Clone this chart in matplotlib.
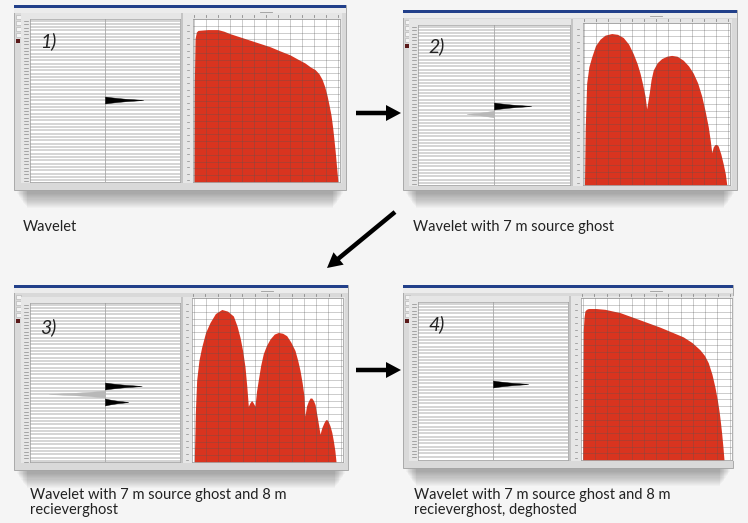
import matplotlib.pyplot as plt
import numpy as np
from matplotlib.patches import Rectangle, FancyArrow

W, H = 748, 523

# amplitude spectra: frequency (% of axis width) and amplitude (fraction of axis height)
spec1_f = [0.7, 0.9, 1.4, 2.3, 3.4, 10, 17, 21, 25.2, 32, 38.8, 45.6, 52.4, 59, 66, 71, 76.2,
           80, 83, 85.6, 87.8, 89.6, 91.2, 92.6, 93.9, 95, 95.9, 96.7, 97.3, 98, 98.6]
spec1_a = [0, 0.6, 0.88, 0.92, 0.93, 0.935, 0.935, 0.925, 0.91, 0.89, 0.87, 0.85, 0.83, 0.805,
           0.78, 0.755, 0.73, 0.705, 0.69, 0.665, 0.63, 0.585, 0.53, 0.47, 0.41, 0.335, 0.26,
           0.19, 0.13, 0.06, 0]

spec2_f = [1, 1.5, 2.5, 4, 5.9, 8.5, 11.6, 15, 19.5, 23.5, 27.4, 31, 34.2, 36.8, 38.8, 40.6,
           42.2, 43.3, 44.2, 45.1, 46.3, 47.8, 50.5, 53.5, 57, 60.3, 64, 68.2, 71.8, 75, 78,
           80.7, 83, 85.2, 86.5, 87.6, 88.6, 89.8, 91, 92, 93.8, 95.4, 96.8, 97.8]
spec2_a = [0, 0.35, 0.63, 0.73, 0.79, 0.86, 0.90, 0.925, 0.935, 0.93, 0.91, 0.87, 0.81, 0.75,
           0.69, 0.62, 0.55, 0.47, 0.52, 0.57, 0.65, 0.71, 0.755, 0.78, 0.795, 0.80, 0.795,
           0.77, 0.735, 0.69, 0.63, 0.55, 0.46, 0.36, 0.28, 0.20, 0.235, 0.25, 0.25, 0.24,
           0.19, 0.13, 0.07, 0]

spec3_f = [1.5, 2.2, 3.1, 4.6, 6.4, 9, 11.9, 15.5, 19.7, 23.5, 27.4, 29.8, 31.8, 33.5, 35.1,
           36.3, 37.3, 38.3, 39.5, 40.6, 41.7, 42.7, 43.9, 45.5, 47.2, 49.3, 51.7, 54.5, 57.2,
           60, 62.7, 65.5, 68.2, 70, 71.5, 73, 74.2, 74.8, 75.8, 77, 78.2, 79.3, 80.4, 81.5,
           83.2, 84.8, 86, 87.4, 88.3, 89.2, 90.3, 91.4, 92.6, 93.6, 94.6, 95.4]
spec3_a = [0, 0.3, 0.50, 0.62, 0.70, 0.79, 0.85, 0.905, 0.93, 0.92, 0.89, 0.83, 0.76, 0.68,
           0.58, 0.46, 0.34, 0.36, 0.375, 0.36, 0.34, 0.43, 0.50, 0.59, 0.66, 0.71, 0.75, 0.78,
           0.79, 0.785, 0.77, 0.73, 0.68, 0.62, 0.56, 0.48, 0.40, 0.28, 0.34, 0.37, 0.39, 0.39,
           0.375, 0.35, 0.26, 0.17, 0.21, 0.24, 0.255, 0.26, 0.245, 0.22, 0.18, 0.13, 0.07, 0]

spec4_f = [1.1, 1.3, 1.5, 2, 2.6, 3.6, 4.9, 10, 15.9, 20.8, 25.8, 30.2, 34.7, 43.5, 52.3, 60,
           67.7, 73.5, 78.8, 81.8, 84.3, 86.7, 88.7, 90.3, 91.6, 92.5, 93.2, 94, 94.7]
spec4_a = [0, 0.5, 0.80, 0.88, 0.92, 0.93, 0.935, 0.935, 0.93, 0.92, 0.91, 0.895, 0.88, 0.85,
           0.82, 0.79, 0.76, 0.725, 0.68, 0.645, 0.60, 0.53, 0.45, 0.37, 0.29, 0.22, 0.16,
           0.08, 0]

# wavelet spikes: time (px from top of trace panel) and amplitude (-1..1 across panel)
trace1_t = [81]
trace1_a = [0.51]
trace2_t = [81, 89]
trace2_a = [0.49, -0.36]
trace3_t = [83, 91, 99]
trace3_a = [0.49, -0.75, 0.31]
trace4_t = [82]
trace4_a = [0.47]

# shape of a single spike
pulse_dt = [-3.5, -2.7, -1.7, -1.1, -0.75, -0.35, 0, 0.35, 0.75, 1.1, 1.7, 2.7, 3.5]
pulse_w = [0, 0.15, 0.4, 0.58, 0.73, 0.88, 1, 0.88, 0.73, 0.58, 0.4, 0.15, 0]

panels = [
    dict(win=(14, 5, 346, 190), trace=(30, 19, 180, 182), spec=(193, 19, 340, 182),
         f=spec1_f, a=spec1_a, t=trace1_t, amp=trace1_a, label='1)', lab=(40, 47)),
    dict(win=(403, 10, 737, 190), trace=(418, 25, 570, 185), spec=(583, 23, 730, 185),
         f=spec2_f, a=spec2_a, t=trace2_t, amp=trace2_a, label='2)', lab=(428, 52)),
    dict(win=(14, 285, 348, 470), trace=(30, 303, 180, 462), spec=(192, 298, 343, 462),
         f=spec3_f, a=spec3_a, t=trace3_t, amp=trace3_a, label='3)', lab=(40, 333)),
    dict(win=(403, 285, 733, 468), trace=(418, 302, 568, 460), spec=(581, 298, 732, 460),
         f=spec4_f, a=spec4_a, t=trace4_t, amp=trace4_a, label='4)', lab=(428, 330)),
]

fig = plt.figure(figsize=(W / 100, H / 100), dpi=100)
fig.patch.set_facecolor('#f5f5f5')
bg = fig.add_axes([0, 0, 1, 1])
bg.set_xlim(0, W)
bg.set_ylim(H, 0)
bg.axis('off')


def box(x0, y0, x1, y1):
    return [x0 / W, 1 - y1 / H, (x1 - x0) / W, (y1 - y0) / H]


for p in panels:
    wx0, wy0, wx1, wy1 = p['win']
    ww, wh = wx1 - wx0, wy1 - wy0
    # soft drop shadow
    for i in range(14):
        bg.add_patch(Rectangle((wx0 + 3 + i * 0.8, wy0 + 4), ww - 6 - i * 1.6, wh + i * 1.1,
                               color='k', alpha=0.022, lw=0))
    bg.add_patch(Rectangle((wx0, wy0), ww, wh, facecolor='#d9d9d9', edgecolor='#a0a0a0', lw=0.6))
    bg.add_patch(Rectangle((wx0, wy0), ww, 2.5, color='#22408a', lw=0))
    bg.add_patch(Rectangle((wx0, wy0 + 2.5), ww, 5, color='#ececec', lw=0))
    # toolbar icons
    for k in range(4):
        bg.add_patch(Rectangle((wx0 + 2, wy0 + 10 + k * 6), 5, 4, facecolor='#f4f4f4',
                               edgecolor='#b0b0b0', lw=0.4))
    bg.add_patch(Rectangle((wx0 + 2.5, wy0 + 34), 4, 4, color='#5a1a1a', lw=0))

    tx0, ty0, tx1, ty1 = p['trace']
    sx0, sy0, sx1, sy1 = p['spec']
    # gray panel behind plots
    bg.add_patch(Rectangle((tx0 - 9, ty0 - 6), sx1 - tx0 + 11, ty1 - ty0 + 7, color='#e6e6e6', lw=0))
    bg.add_patch(Rectangle((tx1 + 1, ty0 - 6), 2, ty1 - ty0 + 7, color='#c4c4c4', lw=0))
    # time tick strip
    for yy in np.arange(ty0 + 2, ty1, 3.33):
        bg.plot([tx0 - 6, tx0 - 2], [yy, yy], color='#8a8a8a', lw=0.5)
    # spectrum tick strips
    for yy in np.linspace(sy0 + 6, sy1 - 2, 25):
        bg.plot([sx0 - 6, sx0 - 4], [yy, yy], color='#8a8a8a', lw=0.5)
    for xx in np.linspace(sx0 + 1, sx1 - 2, 13):
        bg.plot([xx, xx], [sy0 - 4, sy0 - 2], color='#8a8a8a', lw=0.6)
    bg.plot([(sx0 + sx1) / 2 - 6, (sx0 + sx1) / 2 + 6], [sy0 - 7, sy0 - 7], color='#9a9a9a', lw=0.6)

    # trace panel
    th = ty1 - ty0
    ax = fig.add_axes(box(tx0, ty0, tx1, ty1))
    ax.set_facecolor('white')
    ax.set_xlim(-1, 1)
    ax.set_ylim(th, 0)
    for yy in np.arange(1.5, th, 3.33):
        ax.axhline(yy, color='#c9c9c9', lw=1.1)
    ax.axvline(0, color='#a8a8a8', lw=0.6)
    for t0, a0 in zip(p['t'], p['amp']):
        tt = [t0 + d for d in pulse_dt]
        aa = [a0 * w for w in pulse_w]
        col = 'black' if a0 > 0 else '#b8b8b8'
        ax.fill_betweenx(tt, 0, aa, color=col, lw=0.3, zorder=3)
    ax.set_xticks([])
    ax.set_yticks([])
    for s in ax.spines.values():
        s.set_color('#9a9a9a')
        s.set_linewidth(0.5)

    # spectrum panel
    sp = fig.add_axes(box(sx0, sy0, sx1, sy1))
    sp.set_facecolor('white')
    sp.set_xlim(0, 100)
    sp.set_ylim(0, 1)
    sp.fill_between(p['f'], p['a'], color='#d9341f', lw=0, zorder=1)
    for xx in np.linspace(1, 98.5, 13):
        sp.axvline(xx, color='#555555', alpha=0.3, lw=0.7, zorder=2)
    for yy in np.linspace(0, 1, 25):
        sp.axhline(yy, color='#555555', alpha=0.3, lw=0.7, zorder=2)
    sp.set_xticks([])
    sp.set_yticks([])
    for s in sp.spines.values():
        s.set_color('#9a9a9a')
        s.set_linewidth(0.5)

# labels, arrows and captions go on top of everything
top = fig.add_axes([0, 0, 1, 1])
top.set_xlim(0, W)
top.set_ylim(H, 0)
top.axis('off')
for p in panels:
    top.text(p['lab'][0], p['lab'][1], p['label'], fontsize=14, style='italic',
             family='Lato', color='#222222', va='baseline')

top.add_patch(FancyArrow(356, 113, 45, 0, width=4.5, head_width=16, head_length=15,
                         length_includes_head=True, color='black', lw=0))
top.add_patch(FancyArrow(356, 370, 45, 0, width=4.5, head_width=16, head_length=15,
                         length_includes_head=True, color='black', lw=0))
top.add_patch(FancyArrow(395, 212, -68, 56, width=4.5, head_width=16, head_length=15,
                         length_includes_head=True, color='black', lw=0))

cap = dict(fontsize=10.5, family='Lato', color='#222222', va='baseline')
top.text(23, 231, 'Wavelet', **cap)
top.text(413, 231, 'Wavelet with 7 m source ghost', **cap)
top.text(30, 499, 'Wavelet with 7 m source ghost and 8 m', **cap)
top.text(30, 514, 'recieverghost', **cap)
top.text(414, 499, 'Wavelet with 7 m source ghost and 8 m', **cap)
top.text(414, 514, 'recieverghost, deghosted', **cap)

plt.savefig('out.png', dpi=100, facecolor=fig.get_facecolor())
